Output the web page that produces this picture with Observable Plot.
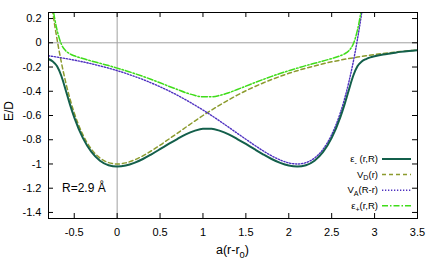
<!DOCTYPE html>
<html><head><meta charset="utf-8">
<script src="https://cdn.jsdelivr.net/npm/d3@7"></script>
<script src="https://cdn.jsdelivr.net/npm/@observablehq/plot@0.6"></script>
<style>
body{margin:0;background:#fff;}
svg{font-family:"Liberation Sans",Arial,sans-serif;}
</style>
</head><body><div id="chart"></div>
<script>
// x grid for V_D
const dX = [-0.8,-0.75,-0.7,-0.65,-0.6,-0.55,-0.5,-0.4,-0.3,-0.2,-0.1,
  0,0.1,0.2,0.3,0.4,0.5,0.6,0.7,0.8,0.9,1.0,1.1,1.2,1.3,1.4,1.5,1.6,1.7,1.8,1.9,
  2.0,2.1,2.2,2.3,2.4,2.5,2.6,2.7,2.8,2.9,3.0,3.1,3.2,3.3,3.4,3.5];
const vD = [0.502,0.248,0.028,-0.162,-0.324,-0.462,-0.579,-0.758,-0.878,-0.951,-0.989,
  -1,-0.991,-0.967,-0.933,-0.891,-0.845,-0.796,-0.747,-0.697,-0.648,
  -0.600,-0.555,-0.512,-0.471,-0.432,-0.396,-0.363,-0.332,-0.303,-0.277,
  -0.252,-0.230,-0.209,-0.191,-0.173,-0.157,-0.143,-0.130,-0.118,-0.107,
  -0.097,-0.088,-0.080,-0.072,-0.066,-0.060];
// V_A(R-r)
const aX = [-0.8,-0.7,-0.6,-0.5,-0.4,-0.3,-0.2,-0.1,0,0.1,0.2,0.3,0.4,0.5,0.6,0.7,0.8,0.9,
  1.0,1.1,1.2,1.3,1.4,1.5,1.6,1.7,1.8,1.9,2.0,2.1,2.2,2.3,2.4,2.5,2.6,2.65,2.7,2.75,2.8,2.85,2.9];
const vA = [-0.107,-0.118,-0.130,-0.143,-0.157,-0.173,-0.191,-0.209,-0.230,-0.252,-0.277,-0.303,
  -0.332,-0.363,-0.396,-0.432,-0.471,-0.512,-0.555,-0.600,-0.648,-0.697,-0.747,-0.796,-0.845,
  -0.891,-0.933,-0.967,-0.991,-1,-0.989,-0.951,-0.878,-0.758,-0.579,-0.462,-0.324,-0.162,
  0.028,0.248,0.502];
// eigenvalues
const eX = [-0.8,-0.75,-0.7,-0.65,-0.6,-0.55,-0.5,-0.4,-0.3,-0.2,-0.1,
  0,0.1,0.2,0.3,0.4,0.5,0.6,0.7,0.8,0.9,1.0,1.1,1.2,1.3,1.4,1.5,1.6,1.7,1.8,1.9,
  2.0,2.1,2.2,2.3,2.4,2.5,2.6,2.65,2.7,2.75,2.8,2.85,2.9,2.95,3.0,3.1,3.2,3.3,3.4,3.5];
const epsMinus = [-0.134,-0.154,-0.194,-0.274,-0.389,-0.508,-0.615,-0.785,-0.901,-0.973,-1.010,
  -1.021,-1.013,-0.991,-0.959,-0.920,-0.878,-0.835,-0.794,-0.756,-0.727,
  -0.709,-0.709,-0.727,-0.756,-0.794,-0.835,-0.878,-0.920,-0.959,-0.991,
  -1.013,-1.021,-1.010,-0.973,-0.901,-0.785,-0.615,-0.508,-0.389,-0.274,-0.194,-0.154,-0.134,
  -0.120,-0.111,-0.096,-0.086,-0.075,-0.067,-0.061];
const epsPlus = [0.529,0.290,0.104,-0.012,-0.065,-0.091,-0.107,-0.130,-0.150,-0.169,-0.188,
  -0.209,-0.230,-0.253,-0.277,-0.303,-0.330,-0.358,-0.385,-0.412,-0.433,
  -0.446,-0.446,-0.433,-0.412,-0.385,-0.358,-0.330,-0.303,-0.277,-0.253,
  -0.230,-0.209,-0.188,-0.169,-0.150,-0.130,-0.107,-0.091,-0.065,-0.012,0.104,0.290,0.529];

const xTicks = [-0.5,0,0.5,1,1.5,2,2.5,3,3.5];
const yTicks = [-1.4,-1.2,-1,-0.8,-0.6,-0.4,-0.2,0,0.2];
const legendLabels = [
  [["ε"],["-","sub"],[" (r,R)"]],
  [["V"],["D","sub"],["(r)"]],
  [["V"],["A","sub"],["(R-r)"]],
  [["ε"],["+","sub"],["(r,R)"]]
];

const C = {minus:"#135f4b", vd:"#8c9b2e", va:"#4e30c0", plus:"#3fdc1a"};
const styles = [
  {stroke:C.minus, dash:null, w:2},
  {stroke:C.vd, dash:"4,3", w:1.5},
  {stroke:C.va, dash:"1.3,1.7", w:1.4},
  {stroke:C.plus, dash:"6,2,1.5,2", w:1.5}
];

const W = 436, H = 262, mL = 48, mR = 19, mT = 12, mB = 44;
const iW = W - mL - mR, iH = H - mT - mB;

const toPts = (xs, ys) => ys.map((y, i) => ({x: xs[i], y}));

const plot = Plot.plot({
  width: W, height: H,
  marginLeft: mL, marginRight: mR, marginTop: mT, marginBottom: mB,
  style: {fontFamily: '"Liberation Sans", Arial, sans-serif', fontSize: "11px", background: "#fff"},
  x: {domain: [-0.8, 3.5]},
  y: {domain: [-1.45, 0.25]},
  marks: [
    Plot.ruleX([0], {stroke: "#a0a0a0", strokeWidth: 1}),
    Plot.ruleY([0], {stroke: "#a0a0a0", strokeWidth: 1}),
    Plot.line(toPts(dX, vD), {x:"x", y:"y", stroke:C.vd, strokeWidth:1.5, strokeDasharray:"4,3", curve:"monotone-x", clip:true}),
    Plot.line(toPts(aX, vA), {x:"x", y:"y", stroke:C.va, strokeWidth:1.4, strokeDasharray:"1.3,1.7", curve:"monotone-x", clip:true}),
    Plot.line(toPts(eX, epsPlus), {x:"x", y:"y", stroke:C.plus, strokeWidth:1.5, strokeDasharray:"6,2,1.5,2", curve:"monotone-x", clip:true}),
    Plot.line(toPts(eX, epsMinus), {x:"x", y:"y", stroke:C.minus, strokeWidth:2, curve:"monotone-x", clip:true}),
    Plot.tickX(xTicks, {x: d => d, insetTop: iH - 5, stroke: "#000"}),
    Plot.tickX(xTicks, {x: d => d, insetBottom: iH - 5, stroke: "#000"}),
    Plot.tickY(yTicks, {y: d => d, insetRight: iW - 5, stroke: "#000"}),
    Plot.tickY(yTicks, {y: d => d, insetLeft: iW - 5, stroke: "#000"}),
    Plot.axisX(xTicks, {tickSize: 0, tickPadding: 10, tickFormat: d => String(d), label: null, fontSize: 11}),
    Plot.axisY(yTicks, {tickSize: 0, tickPadding: 7, tickFormat: d => String(d), label: null, fontSize: 11}),
    Plot.frame({stroke: "#000", strokeWidth: 1})
  ]
});
document.getElementById("chart").appendChild(plot);

const svg = d3.select(plot);
const g = svg.append("g").attr("font-family", '"Liberation Sans", Arial, sans-serif').attr("fill", "#000");

function richText(parent, parts, x, y, size, anchor) {
  const t = parent.append("text").attr("x", x).attr("y", y).attr("font-size", size)
    .attr("text-anchor", anchor);
  let shifted = false;
  parts.forEach(([s, kind]) => {
    const ts = t.append("tspan").text(s);
    if (kind === "sub") { ts.attr("dy", size * 0.3).attr("font-size", size * 0.75); shifted = true; }
    else if (shifted) { ts.attr("dy", -size * 0.3); shifted = false; }
  });
  return t;
}

// legend
const legY0 = 162, legStep = 15.6;
legendLabels.forEach((parts, i) => {
  const y = legY0 + i * legStep;
  richText(g, parts, 378, y, 9.5, "end");
  const s = styles[i];
  g.append("line").attr("x1", 382).attr("x2", 411).attr("y1", y - 3).attr("y2", y - 3)
    .attr("stroke", s.stroke).attr("stroke-width", s.w).attr("stroke-dasharray", s.dash);
});

// annotation
g.append("text").attr("x", 62).attr("y", 192).attr("font-size", 12).attr("text-anchor", "start").text("R=2.9 Å");

// axis labels
richText(g, [["a(r-r"],["0","sub"],[")"]], 216, 254, 12.5, "start");
g.append("text").attr("transform", "translate(13,111) rotate(-90)").attr("text-anchor", "middle")
  .attr("font-size", 12).text("E/D");
</script>
</body></html>
